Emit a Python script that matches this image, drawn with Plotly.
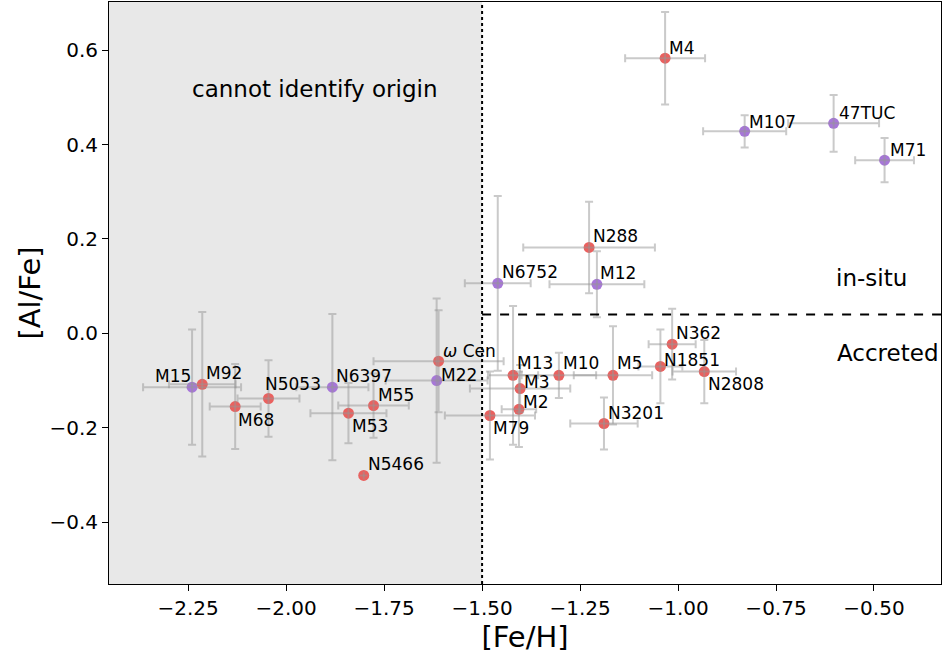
import plotly.graph_objects as go

# ---- data ----
names = ["M4", "M107", "47TUC", "M71", "N288", "M12", "N6752", "ω Cen", "M22",
         "M13", "M3", "M2", "M79", "M10", "M5", "N3201", "N362", "N1851", "N2808",
         "M15", "M92", "M68", "N5053", "N6397", "M53", "M55", "N5466"]
fe_h = [-1.033, -0.830, -0.603, -0.473, -1.227, -1.207, -1.460, -1.611, -1.616,
        -1.421, -1.403, -1.406, -1.480, -1.304, -1.166, -1.189, -1.015, -1.045, -0.933,
        -2.240, -2.214, -2.130, -2.045, -1.882, -1.841, -1.777, -1.802]
al_fe = [0.583, 0.428, 0.445, 0.367, 0.182, 0.104, 0.106, -0.059, -0.100,
         -0.089, -0.117, -0.161, -0.174, -0.089, -0.089, -0.191, -0.023, -0.070, -0.081,
         -0.114, -0.108, -0.155, -0.138, -0.114, -0.169, -0.153, -0.301]
fe_h_err = [0.102, 0.106, 0.116, 0.075, 0.168, 0.121, 0.084, 0.166, 0.130,
            0.064, 0.128, 0.044, 0.115, 0.095, 0.100, 0.086, 0.060, 0.056, 0.081,
            0.125, 0.085, 0.065, 0.079, 0.092, 0.097, 0.090, 0.0]
al_fe_err = [0.098, 0.034, 0.060, 0.047, 0.097, 0.070, 0.185, 0.108, 0.174,
             0.147, 0.050, 0.080, 0.093, 0.048, 0.104, 0.055, 0.075, 0.078, 0.067,
             0.122, 0.153, 0.090, 0.081, 0.155, 0.064, 0.068, 0.0]
group = ["acc", "ins", "ins", "ins", "acc", "ins", "ins", "acc", "ins",
         "acc", "acc", "acc", "acc", "acc", "acc", "acc", "acc", "acc", "acc",
         "ins", "acc", "acc", "acc", "ins", "acc", "acc", "acc"]

x_ticks = [-2.25, -2.00, -1.75, -1.50, -1.25, -1.00, -0.75, -0.50]
y_ticks = [-0.4, -0.2, 0.0, 0.2, 0.4, 0.6]
fe_cut = -1.5
al_cut = 0.04

# ---- styles ----
COLORS = {"acc": "#ea615f", "ins": "#a776d9"}
# label offsets in pixels (dx, dy_down, anchor)
OFFSETS = {
    "M4": (2, -10, "left"), "M107": (2, -9, "left"), "47TUC": (3, -10, "left"),
    "M71": (3, -10, "left"), "N288": (2, -11, "left"), "M12": (1, -11, "left"),
    "N6752": (2, -11, "left"), "ω Cen": (2, -10, "left"), "M22": (2, -6, "left"),
    "M13": (2, -12, "left"), "M3": (2, -7, "left"), "M2": (2, -7, "left"),
    "M79": (1, 13, "left"), "M10": (2, -12, "left"), "M5": (2, -12, "left"),
    "N3201": (2, -11, "left"), "N362": (2, -11, "left"), "N1851": (2, -6, "left"),
    "N2808": (2, 12, "left"), "M15": (1, -11, "right"), "M92": (2, -11, "left"),
    "M68": (1, 13, "left"), "N5053": (-6, -15, "left"), "N6397": (2, -11, "left"),
    "M53": (2, 13, "left"), "M55": (2, -11, "left"), "N5466": (2, -11, "left"),
}
FONT = "DejaVu Sans"

fig = go.Figure()

# markers
fig.add_trace(go.Scatter(
    x=fe_h, y=al_fe, mode="markers",
    marker=dict(size=11, color=[COLORS[g] for g in group], line=dict(width=0)),
    showlegend=False, hoverinfo="skip"))

# error bars drawn on top (semi-transparent like matplotlib)
fig.add_trace(go.Scatter(
    x=fe_h, y=al_fe, mode="markers",
    marker=dict(size=1, color="rgba(0,0,0,0)"),
    error_x=dict(type="data", array=fe_h_err, color="rgba(150,150,150,0.5)",
                 thickness=2, width=4),
    error_y=dict(type="data", array=al_fe_err, color="rgba(150,150,150,0.5)",
                 thickness=2, width=4),
    showlegend=False, hoverinfo="skip"))

# shaded region
fig.add_shape(type="rect", xref="x", yref="paper", x0=-3, x1=fe_cut, y0=0, y1=1,
              fillcolor="#e8e8e8", line=dict(width=0), layer="below")
# dotted vertical line
fig.add_shape(type="line", xref="x", yref="paper", x0=fe_cut, x1=fe_cut, y0=0, y1=1,
              line=dict(color="black", width=2, dash="dot"))
# dashed horizontal line
fig.add_shape(type="line", xref="x", yref="y", x0=fe_cut, x1=0, y0=al_cut, y1=al_cut,
              line=dict(color="black", width=2, dash="dash"))

for n, xv, yv in zip(names, fe_h, al_fe):
    dx, dy, anc = OFFSETS[n]
    shown = n.replace("ω", "<i>ω</i>")
    fig.add_annotation(x=xv, y=yv, text=shown, showarrow=False, xanchor=anc,
                       yanchor="middle", xshift=dx, yshift=-dy,
                       font=dict(family=FONT, size=17, color="black"))

for txt, px, py in [("cannot identify origin", 0.248, 0.851),
                    ("in-situ", 0.917, 0.526),
                    ("Accreted", 0.936, 0.3965)]:
    fig.add_annotation(x=px, y=py, xref="paper", yref="paper", text=txt,
                       showarrow=False, xanchor="center", yanchor="middle",
                       font=dict(family=FONT, size=23, color="black"))

fig.update_layout(
    width=942, height=654,
    margin=dict(l=109, r=1, t=2, b=70),
    plot_bgcolor="white", paper_bgcolor="white",
    font=dict(family=FONT, color="black"),
)
fig.update_xaxes(range=[-2.452, -0.329], tickvals=x_ticks,
                 ticktext=[f"{v:.2f}".replace("-", "\u2212") for v in x_ticks],
                 showgrid=False, zeroline=False, showline=True, mirror=True,
                 linecolor="black", linewidth=1, ticks="outside", ticklen=6,
                 tickcolor="black", tickfont=dict(family=FONT, size=20),
                 title=dict(text="[Fe/H]", font=dict(family=FONT, size=29), standoff=0))
fig.update_yaxes(range=[-0.531, 0.702], tickvals=y_ticks,
                 ticktext=[f"{v:.1f}".replace("-", "\u2212") for v in y_ticks],
                 showgrid=False, zeroline=False, showline=True, mirror=True,
                 linecolor="black", linewidth=1, ticks="outside", ticklen=6,
                 tickcolor="black", tickfont=dict(family=FONT, size=20),
                 title=dict(text="[Al/Fe]", font=dict(family=FONT, size=29), standoff=0))

fig.write_html("out.html", config={"displayModeBar": False},
               post_script="document.body.style.margin='0';")
